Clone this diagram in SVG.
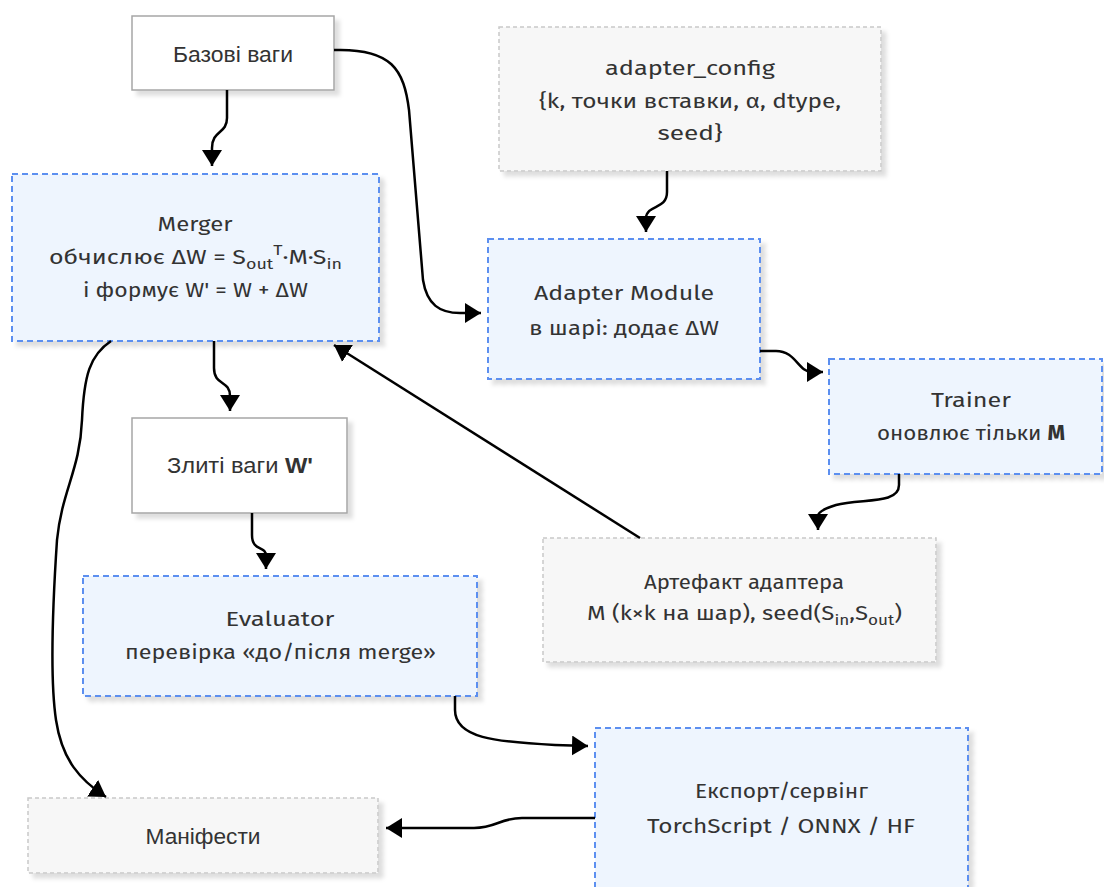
<svg xmlns="http://www.w3.org/2000/svg" width="1104" height="887" viewBox="0 0 1104 887">
  <style>
    .t { font-family: "Fira Sans", "Open Sans", "Noto Sans", sans-serif; font-size: 21px; fill: #333; text-anchor: middle; }
    .a { font-family: "Liberation Sans", Arial, sans-serif; font-size: 22px; fill: #333; text-anchor: middle; }
    .sub { font-size: 15px; }
    .b { font-weight: bold; }
    .blue rect { fill: #eef5fe; stroke: #5b8ff0; stroke-width: 2; stroke-dasharray: 6 4; }
    .gray rect { fill: #f7f7f7; stroke: #c9c9c9; stroke-width: 1.5; stroke-dasharray: 4 3; }
    .plain rect { fill: #ffffff; stroke: #a6a6a6; stroke-width: 1.5; }
    .node rect { filter: url(#shadow); }
    #edges path { fill: none; stroke: #000; stroke-width: 2.5; marker-end: url(#arrow); }
  </style>
  <defs>
    <filter id="shadow" x="-10%" y="-10%" width="130%" height="140%">
      <feDropShadow dx="5" dy="5" stdDeviation="2" flood-color="#000" flood-opacity="0.13"/>
    </filter>
    <marker id="arrow" markerUnits="userSpaceOnUse" markerWidth="17" markerHeight="20" refX="16" refY="10" orient="auto">
      <path d="M0,0 L16,10 L0,20 z" fill="#000"/>
    </marker>
  </defs>

  <!-- nodes -->
  <g id="base-weights" class="node plain">
    <rect x="132" y="16" width="202" height="74"/>
    <text class="a" x="233" y="62" textLength="120" lengthAdjust="spacingAndGlyphs">Базові ваги</text>
  </g>

  <g id="adapter-config" class="node gray">
    <rect x="499" y="27" width="382" height="144"/>
    <text class="t" x="690" y="75" textLength="170" lengthAdjust="spacingAndGlyphs">adapter_config</text>
    <text class="t" x="690" y="108" textLength="302" lengthAdjust="spacingAndGlyphs">{k, точки вставки, α, dtype,</text>
    <text class="t" x="690" y="140" textLength="65" lengthAdjust="spacingAndGlyphs">seed}</text>
  </g>

  <g id="merger" class="node blue">
    <rect x="12" y="174" width="367" height="167"/>
    <text class="t" x="195" y="231" textLength="75" lengthAdjust="spacingAndGlyphs">Merger</text>
    <text class="t" x="195.5" y="264" textLength="293" lengthAdjust="spacingAndGlyphs">обчислює ΔW = S<tspan class="sub" dy="5">out</tspan><tspan class="sub" dy="-14">T</tspan><tspan dy="9">·M·S</tspan><tspan class="sub" dy="5">in</tspan></text>
    <text class="t" x="195.5" y="297" textLength="225" lengthAdjust="spacingAndGlyphs">і формує W' = W + ΔW</text>
  </g>

  <g id="adapter-module" class="node blue">
    <rect x="488" y="239" width="272" height="140"/>
    <text class="t" x="624" y="300" textLength="180" lengthAdjust="spacingAndGlyphs">Adapter Module</text>
    <text class="t" x="624" y="335" textLength="190" lengthAdjust="spacingAndGlyphs">в шарі: додає ΔW</text>
  </g>

  <g id="trainer" class="node blue">
    <rect x="829" y="359" width="273" height="115"/>
    <text class="t" x="971" y="407" textLength="80" lengthAdjust="spacingAndGlyphs">Trainer</text>
    <text class="t" x="971" y="440" textLength="188" lengthAdjust="spacingAndGlyphs">оновлює тільки <tspan class="b">M</tspan></text>
  </g>

  <g id="merged-weights" class="node plain">
    <rect x="132" y="418" width="215" height="95"/>
    <text class="a" x="240" y="473" textLength="146" lengthAdjust="spacingAndGlyphs">Злиті ваги <tspan class="b">W'</tspan></text>
  </g>

  <g id="adapter-artifact" class="node gray">
    <rect x="543" y="538" width="393" height="124"/>
    <text class="t" x="744" y="589" textLength="200" lengthAdjust="spacingAndGlyphs">Артефакт адаптера</text>
    <text class="t" x="744.5" y="620" textLength="315" lengthAdjust="spacingAndGlyphs">M (k×k на шар), seed(S<tspan class="sub" dy="5">in</tspan><tspan dy="-5">,S</tspan><tspan class="sub" dy="5">out</tspan><tspan dy="-5">)</tspan></text>
  </g>

  <g id="evaluator" class="node blue">
    <rect x="83" y="576" width="394" height="120"/>
    <text class="t" x="280" y="626" textLength="109" lengthAdjust="spacingAndGlyphs">Evaluator</text>
    <text class="t" x="280.5" y="659" textLength="311" lengthAdjust="spacingAndGlyphs">перевірка «до/після merge»</text>
  </g>

  <g id="export" class="node blue">
    <rect x="595" y="728" width="373" height="172"/>
    <text class="t" x="781.5" y="798" textLength="173" lengthAdjust="spacingAndGlyphs">Експорт/сервінг</text>
    <text class="t" x="781" y="833" textLength="268" lengthAdjust="spacingAndGlyphs">TorchScript / ONNX / HF</text>
  </g>

  <g id="manifests" class="node gray">
    <rect x="28" y="798" width="350" height="75"/>
    <text class="a" x="203" y="844" textLength="115" lengthAdjust="spacingAndGlyphs">Маніфести</text>
  </g>

  <!-- connectors -->
  <g id="edges">
    <path d="M227,90 L227,118 C227,134 212,130 212,148 L212,166"/>
    <path d="M334,50 C392,48 404,70 409,110 L423,280 C427,305 440,313 460,313 L481,313"/>
    <path d="M667,171 L667,192 C667,210 647,204 646,218 L646,232"/>
    <path d="M760,351 L776,351 C796,351 798,372 812,372 L823,372"/>
    <path d="M899,474 L899,485 C899,505 860,498 836,505 C823,509 818,513 818,516 L818,530"/>
    <path d="M640,538 L334,345"/>
    <path d="M214,341 L214,368 C214,386 230,380 230,396 L230,411"/>
    <path d="M252,513 L252,535 C252,552 266,545 266,556 L266,569"/>
    <path d="M111,341 C90,355 84,375 82,420 C80,470 62,490 57,540 C53,600 50,680 56,720 C62,760 80,780 106,797"/>
    <path d="M455,696 L455,710 C455,738 495,742 555,745 L588,746"/>
    <path d="M595,818 L522,818 C500,818 496,828 474,828 L386,828"/>
  </g>
</svg>
